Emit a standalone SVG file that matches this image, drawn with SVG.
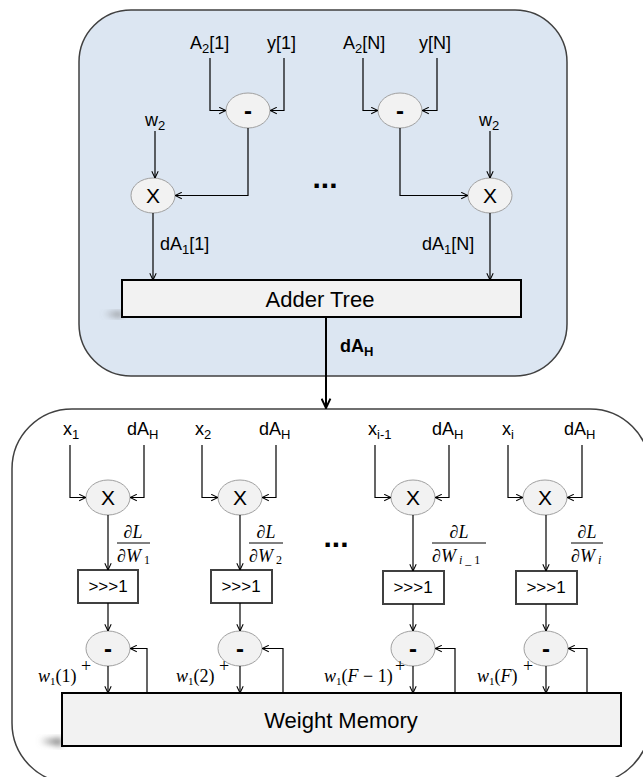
<svg xmlns="http://www.w3.org/2000/svg" width="643" height="777" viewBox="0 0 643 777">
<style>
.lbl{font-family:"Liberation Sans",Arial,sans-serif;font-size:18px;fill:#000}
.op{font-family:"Liberation Sans",Arial,sans-serif;font-size:21px;fill:#000;text-anchor:middle}
.minus{font-family:"Liberation Sans",Arial,sans-serif;font-size:24px;font-weight:bold;fill:#000;text-anchor:middle}
.big{font-family:"Liberation Sans",Arial,sans-serif;font-size:22px;fill:#000;text-anchor:middle}
.sh{font-family:"Liberation Sans",Arial,sans-serif;font-size:17px;fill:#000;text-anchor:middle}
.m{font-family:"Liberation Serif","Times New Roman",serif;font-size:18px;font-style:italic;fill:#000}
.mu{font-style:normal}
.ell{fill:#f2f2f2;stroke:#a0a0a0;stroke-width:1}
.blk{fill:#f2f2f2;stroke:#000;stroke-width:2}
.sbox{fill:#fff;stroke:#404040;stroke-width:2}
.c{fill:none;stroke:#000;stroke-width:1.2;marker-end:url(#a)}
.dots{font-family:"Liberation Sans",Arial,sans-serif;font-size:30px;font-weight:bold;fill:#000;text-anchor:middle}
</style>
<defs>
<marker id="a" viewBox="0 0 10 10" refX="9.5" refY="5" markerWidth="8" markerHeight="8" markerUnits="userSpaceOnUse" orient="auto">
<path d="M1,1 L9.5,5 L1,9" fill="none" stroke="#000" stroke-width="1.3"/>
</marker>
<marker id="b" viewBox="0 0 10 10" refX="9.5" refY="5" markerWidth="11" markerHeight="11" markerUnits="userSpaceOnUse" orient="auto">
<path d="M1,1 L9.5,5 L1,9" fill="none" stroke="#000" stroke-width="1.8"/>
</marker>
<filter id="blur" x="-50%" y="-50%" width="200%" height="200%"><feGaussianBlur stdDeviation="3"/></filter>
</defs>

<g id="top-box">
<rect x="79" y="10" width="488" height="366" rx="52" ry="52" fill="#dce6f2" stroke="#404040" stroke-width="1.5"/>
</g>
<g id="bottom-box">
<rect x="12" y="409" width="638" height="374" rx="60" ry="60" fill="#fff" stroke="#404040" stroke-width="1.5"/>
</g>

<g id="top-labels">
<text class="lbl" x="190" y="49">A<tspan font-size="13" dy="4">2</tspan><tspan dy="-4">[1]</tspan></text>
<text class="lbl" x="267" y="49">y[1]</text>
<text class="lbl" x="343" y="49">A<tspan font-size="13" dy="4">2</tspan><tspan dy="-4">[N]</tspan></text>
<text class="lbl" x="419" y="49">y[N]</text>
<text class="lbl" x="145" y="126">w<tspan font-size="13" dy="4">2</tspan></text>
<text class="lbl" x="479" y="126">w<tspan font-size="13" dy="4">2</tspan></text>
<text class="lbl" x="160" y="250">dA<tspan font-size="13" dy="4">1</tspan><tspan dy="-4">[1]</tspan></text>
<text class="lbl" x="422" y="250">dA<tspan font-size="13" dy="4">1</tspan><tspan dy="-4">[N]</tspan></text>
<text class="dots" x="325" y="188">...</text>
</g>

<g id="sub1"><ellipse class="ell" cx="248" cy="110.5" rx="22" ry="17.5"/><text class="minus" x="248" y="119">-</text></g>
<g id="subN"><ellipse class="ell" cx="400" cy="110.5" rx="22" ry="17.5"/><text class="minus" x="400" y="119">-</text></g>
<g id="mul1"><ellipse class="ell" cx="153" cy="195.5" rx="22" ry="17.5"/><text class="op" x="153" y="203">X</text></g>
<g id="mulN"><ellipse class="ell" cx="490" cy="195.5" rx="22" ry="17.5"/><text class="op" x="490" y="203">X</text></g>

<g id="adder-tree">
<path d="M122,312 L104,314 L122,317 Z" fill="#777" filter="url(#blur)"/>
<rect class="blk" x="122" y="280" width="399" height="37"/>
<text class="big" x="320" y="307">Adder Tree</text>
</g>

<g id="dAH-label">
<text class="lbl" x="340" y="352" font-weight="bold" font-size="19">dA<tspan font-size="13" dy="4">H</tspan></text>
</g>

<g id="bottom-labels">
<text class="lbl" x="63" y="435">x<tspan font-size="13" dy="4">1</tspan></text>
<text class="lbl" x="127" y="435">dA<tspan font-size="13" dy="4">H</tspan></text>
<text class="lbl" x="195" y="435">x<tspan font-size="13" dy="4">2</tspan></text>
<text class="lbl" x="259" y="435">dA<tspan font-size="13" dy="4">H</tspan></text>
<text class="lbl" x="368" y="435">x<tspan font-size="13" dy="4">i-1</tspan></text>
<text class="lbl" x="432" y="435">dA<tspan font-size="13" dy="4">H</tspan></text>
<text class="lbl" x="502" y="435">x<tspan font-size="13" dy="4">i</tspan></text>
<text class="lbl" x="564" y="435">dA<tspan font-size="13" dy="4">H</tspan></text>
<text class="dots" x="336" y="547">...</text>
</g>

<g id="fractions">
<text class="m" x="133" y="538" text-anchor="middle">∂L</text>
<line x1="117" y1="543" x2="150" y2="543" stroke="#000" stroke-width="1"/>
<text class="m" x="117" y="562">∂W<tspan font-size="12" dy="2" class="mu"> 1</tspan></text>
<text class="m" x="266" y="538" text-anchor="middle">∂L</text>
<line x1="249" y1="543" x2="283" y2="543" stroke="#000" stroke-width="1"/>
<text class="m" x="249" y="562">∂W<tspan font-size="12" dy="2" class="mu"> 2</tspan></text>
<text class="m" x="459" y="538" text-anchor="middle">∂L</text>
<line x1="432" y1="543" x2="486" y2="543" stroke="#000" stroke-width="1"/>
<text class="m" x="432" y="562">∂W<tspan font-size="12" dy="2"> i <tspan class="mu">_ 1</tspan></tspan></text>
<text class="m" x="587" y="538" text-anchor="middle">∂L</text>
<line x1="571" y1="543" x2="603" y2="543" stroke="#000" stroke-width="1"/>
<text class="m" x="571" y="562">∂W<tspan font-size="12" dy="2"> i</tspan></text>
</g>

<g id="mulA"><ellipse class="ell" cx="108" cy="497.5" rx="22" ry="17.5"/><text class="op" x="108" y="505">X</text></g>
<g id="mulB"><ellipse class="ell" cx="240" cy="497.5" rx="22" ry="17.5"/><text class="op" x="240" y="505">X</text></g>
<g id="mulC"><ellipse class="ell" cx="413" cy="497.5" rx="22" ry="17.5"/><text class="op" x="413" y="505">X</text></g>
<g id="mulD"><ellipse class="ell" cx="545" cy="497.5" rx="22" ry="17.5"/><text class="op" x="545" y="505">X</text></g>

<g id="shA"><rect class="sbox" x="78" y="570" width="60" height="33"/><text class="sh" x="108" y="592">&gt;&gt;&gt;1</text></g>
<g id="shB"><rect class="sbox" x="211" y="570" width="61" height="33"/><text class="sh" x="241" y="592">&gt;&gt;&gt;1</text></g>
<g id="shC"><rect class="sbox" x="383" y="571" width="61" height="33"/><text class="sh" x="413" y="593">&gt;&gt;&gt;1</text></g>
<g id="shD"><rect class="sbox" x="516" y="571" width="61" height="33"/><text class="sh" x="546" y="593">&gt;&gt;&gt;1</text></g>

<g id="subA"><ellipse class="ell" cx="108" cy="648.5" rx="22" ry="17.5"/><text class="minus" x="108" y="657">-</text></g>
<g id="subB"><ellipse class="ell" cx="240" cy="648.5" rx="22" ry="17.5"/><text class="minus" x="240" y="657">-</text></g>
<g id="subC"><ellipse class="ell" cx="413" cy="648.5" rx="22" ry="17.5"/><text class="minus" x="413" y="657">-</text></g>
<g id="subD"><ellipse class="ell" cx="546" cy="648.5" rx="22" ry="17.5"/><text class="minus" x="546" y="657">-</text></g>

<g id="w-labels">
<text class="m" x="38" y="682" font-size="16">w<tspan class="mu" font-size="11" dy="3">1</tspan><tspan class="mu" dy="-3">(1)</tspan></text>
<text class="m" x="81" y="672" font-size="13"><tspan class="mu">+</tspan></text>
<text class="m" x="176" y="682" font-size="16">w<tspan class="mu" font-size="11" dy="3">1</tspan><tspan class="mu" dy="-3">(2)</tspan></text>
<text class="m" x="219" y="672" font-size="13"><tspan class="mu">+</tspan></text>
<text class="m" x="324" y="682" font-size="16">w<tspan class="mu" font-size="11" dy="3">1</tspan><tspan class="mu" dy="-3">(</tspan>F<tspan class="mu"> − 1)</tspan></text>
<text class="m" x="395" y="672" font-size="13"><tspan class="mu">+</tspan></text>
<text class="m" x="477" y="682" font-size="16">w<tspan class="mu" font-size="11" dy="3">1</tspan><tspan class="mu" dy="-3">(</tspan>F<tspan class="mu">)</tspan></text>
<text class="m" x="523" y="672" font-size="13"><tspan class="mu">+</tspan></text>
</g>

<g id="weight-memory">
<path d="M62,738 L40,741 L62,746 Z" fill="#777" filter="url(#blur)"/>
<rect class="blk" x="62" y="693" width="559" height="53"/>
<text class="big" x="341" y="728">Weight Memory</text>
</g>

<g id="connectors">
<path class="c" d="M210,58 V110.5 H226"/>
<path class="c" d="M284,58 V110.5 H270"/>
<path class="c" d="M363,58 V110.5 H378"/>
<path class="c" d="M437,58 V110.5 H422"/>
<path class="c" d="M155,131 V178"/>
<path class="c" d="M490,131 V178"/>
<path class="c" d="M248,128 V195.5 H175"/>
<path class="c" d="M400,128 V195.5 H468"/>
<path class="c" d="M153,213 V280"/>
<path class="c" d="M490,213 V280"/>
<path d="M326,317 V408" fill="none" stroke="#000" stroke-width="2" marker-end="url(#b)"/>

<path class="c" d="M70,445 V497.5 H86"/>
<path class="c" d="M144,445 V497.5 H130"/>
<path class="c" d="M108,515 V570"/>
<path class="c" d="M108,603 V631"/>
<path class="c" d="M108,666 V693"/>
<path class="c" d="M147,693 V648.5 H130"/>

<path class="c" d="M202,445 V497.5 H218"/>
<path class="c" d="M276,445 V497.5 H262"/>
<path class="c" d="M240,515 V570"/>
<path class="c" d="M240,603 V631"/>
<path class="c" d="M240,666 V693"/>
<path class="c" d="M283,693 V648.5 H262"/>

<path class="c" d="M375,445 V497.5 H391"/>
<path class="c" d="M449,445 V497.5 H435"/>
<path class="c" d="M413,515 V571"/>
<path class="c" d="M413,604 V631"/>
<path class="c" d="M413,666 V693"/>
<path class="c" d="M455,693 V648.5 H435"/>

<path class="c" d="M508,445 V497.5 H523"/>
<path class="c" d="M582,445 V497.5 H567"/>
<path class="c" d="M546,515 V571"/>
<path class="c" d="M546,604 V631"/>
<path class="c" d="M546,666 V693"/>
<path class="c" d="M587,693 V648.5 H568"/>
</g>
</svg>
